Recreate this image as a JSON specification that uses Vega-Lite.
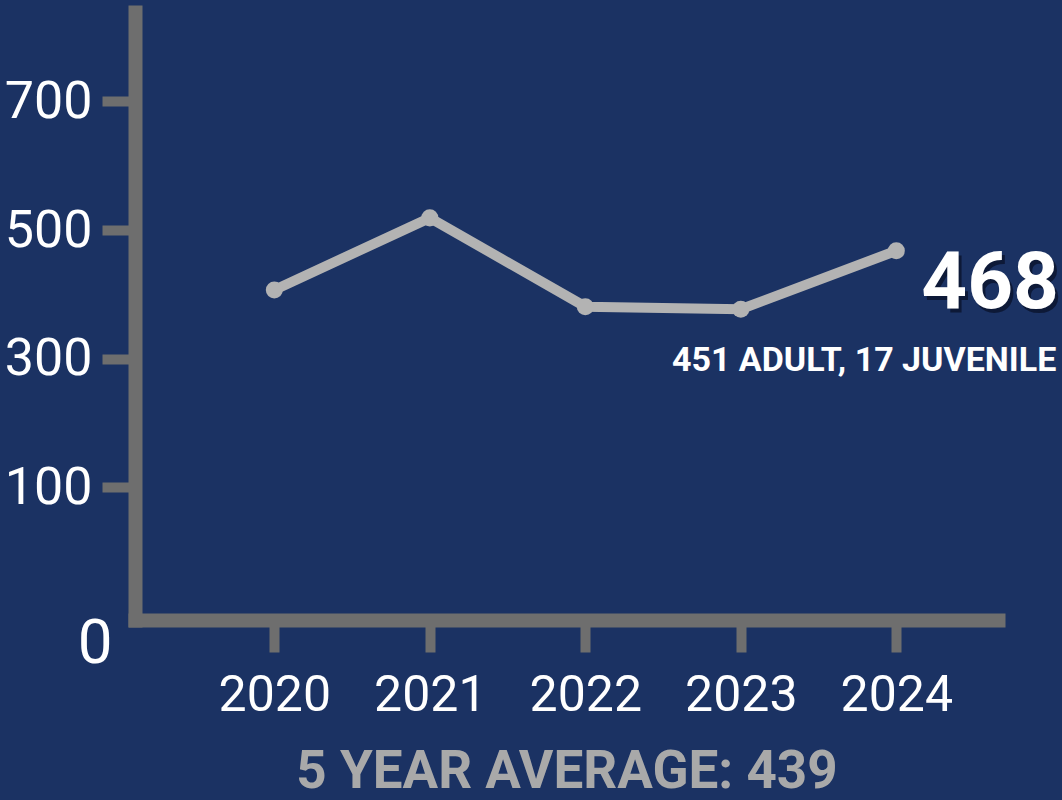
{
  "$schema": "https://vega.github.io/schema/vega-lite/v6.json",
  "width": 863,
  "height": 608,
  "autosize": {"type": "none"},
  "padding": {"left": 135, "top": 12, "right": 64, "bottom": 180},
  "background": "#1b3263",
  "config": {
    "view": {"stroke": null},
    "axis": {"grid": false}
  },
  "data": {
    "values": [
      {"year": 2020, "count": 407, "detail": null},
      {"year": 2021, "count": 519, "detail": null},
      {"year": 2022, "count": 381, "detail": null},
      {"year": 2023, "count": 377, "detail": null},
      {"year": 2024, "count": 468, "detail": "451 ADULT, 17 JUVENILE"}
    ]
  },
  "encoding": {
    "x": {
      "field": "year",
      "type": "quantitative",
      "scale": {"domain": [2019.104, 2024.654], "nice": false, "zero": false},
      "axis": {
        "orient": "bottom",
        "values": [2020, 2021, 2022, 2023, 2024],
        "format": "d",
        "labelFont": "Roboto",
        "labelFontSize": 50,
        "labelColor": "#ffffff",
        "labelPadding": 18,
        "labelFlush": false,
        "labelOverlap": false,
        "tickSize": 32,
        "tickWidth": 10,
        "tickColor": "#6e6e6e",
        "domainWidth": 14,
        "domainColor": "#6e6e6e",
        "domainCap": "square",
        "title": "5 YEAR AVERAGE: 439",
        "titleFont": "Roboto",
        "titleFontWeight": "bold",
        "titleFontSize": 53,
        "titleColor": "#a9a9a9",
        "titlePadding": 25
      }
    },
    "y": {
      "field": "count",
      "type": "quantitative",
      "scale": {"domain": [-106, 839], "nice": false, "zero": false},
      "axis": {
        "orient": "left",
        "values": [-106, 100, 300, 500, 700],
        "labelExpr": "datum.value < 0 ? '0' : datum.label",
        "labelFont": "Roboto",
        "labelFontSize": {"condition": {"test": "datum.value < 0", "value": 62}, "value": 52},
        "labelColor": "#ffffff",
        "labelPadding": {"condition": {"test": "datum.value < 0", "value": -10}, "value": 10},
        "labelOffset": {"condition": {"test": "datum.value < 0", "value": 23}, "value": 0},
        "labelFlush": false,
        "labelOverlap": false,
        "tickSize": 33,
        "tickWidth": 10,
        "tickColor": "#6e6e6e",
        "tickOpacity": {"condition": {"test": "datum.value < 0", "value": 0}, "value": 1},
        "domainWidth": 14,
        "domainColor": "#6e6e6e",
        "domainCap": "square",
        "title": null
      }
    }
  },
  "layer": [
    {
      "mark": {"type": "line", "color": "#b3b3b3", "strokeWidth": 10, "clip": false}
    },
    {
      "mark": {"type": "point", "filled": true, "color": "#b3b3b3", "opacity": 1, "size": 290, "clip": false}
    },
    {
      "transform": [{"filter": "datum.year == 2024"}],
      "mark": {"type": "text", "align": "left", "baseline": "middle", "dx": 28, "dy": 37, "font": "Roboto", "fontWeight": "bold", "fontSize": 80, "color": "#0b1530", "opacity": 0.85},
      "encoding": {"text": {"field": "count", "type": "quantitative"}}
    },
    {
      "transform": [{"filter": "datum.year == 2024"}],
      "mark": {"type": "text", "align": "left", "baseline": "middle", "dx": 25, "dy": 33, "font": "Roboto", "fontWeight": "bold", "fontSize": 80, "color": "#ffffff"},
      "encoding": {"text": {"field": "count", "type": "quantitative"}}
    },
    {
      "transform": [{"filter": "datum.detail != null"}],
      "mark": {"type": "text", "align": "right", "baseline": "middle", "dx": 160, "dy": 110, "font": "Roboto", "fontWeight": "bold", "fontSize": 34, "color": "#ffffff"},
      "encoding": {"text": {"field": "detail", "type": "nominal"}}
    }
  ]
}
